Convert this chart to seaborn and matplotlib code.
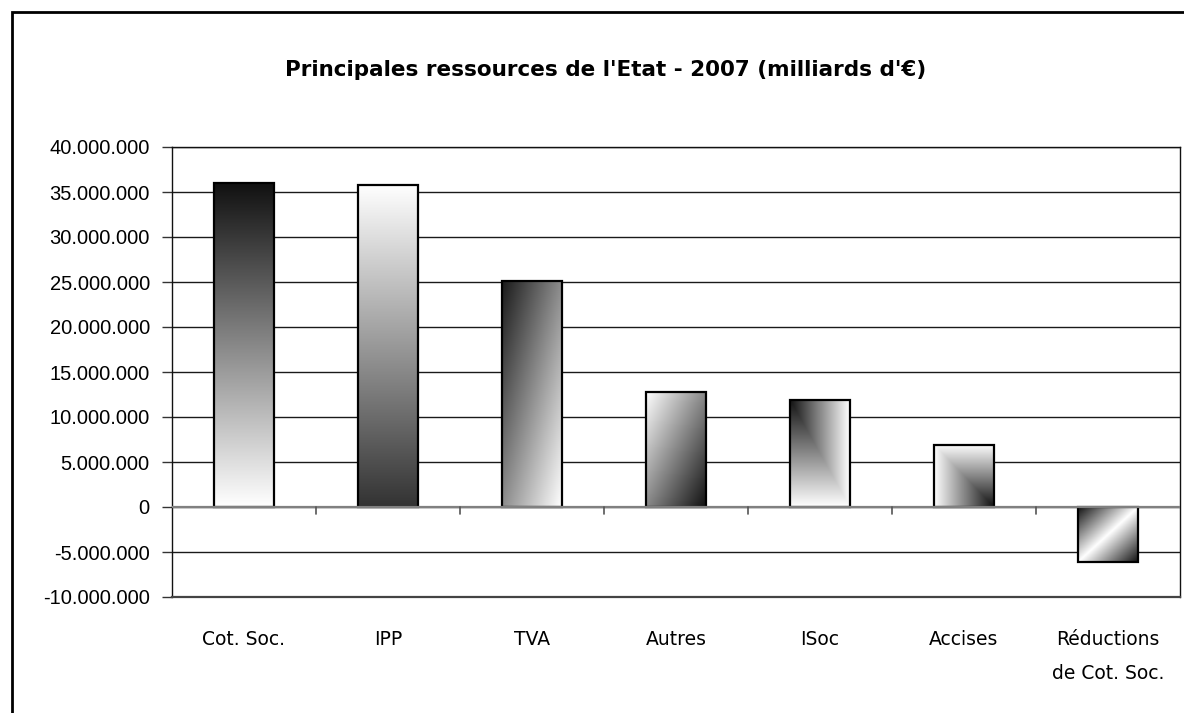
import numpy as np
import pandas as pd
import matplotlib
matplotlib.use("Agg")
import matplotlib.pyplot as plt
from matplotlib.patches import Rectangle
from matplotlib.ticker import FuncFormatter, MultipleLocator
import seaborn as sns

# Principales ressources de l'Etat, 2007
categories = ["Cot. Soc.", "IPP", "TVA", "Autres", "ISoc", "Accises",
              "Réductions\nde Cot. Soc."]
values = [36_000_000, 35_800_000, 25_100_000, 12_750_000, 11_930_000,
          6_890_000, -6_070_000]

# fill style of each bar: gradient kind and darkest grey
gradient_kinds = ["down", "up", "diag", "diag_rev", "corner_tl",
                  "corner_br", "diag_center"]
dark_tones = ["#111111", "#333333", "#1a1a1a", "#111111", "#111111",
              "#111111", "#111111"]

df = pd.DataFrame({"categorie": categories, "valeur": values})

sns.set_theme(style="white")
plt.rcParams["font.family"] = ["DejaVu Sans"]
plt.rcParams["text.color"] = "black"
plt.rcParams["xtick.color"] = "black"
plt.rcParams["ytick.color"] = "black"

W, H = 1184, 713
fig = plt.figure(figsize=(W / 100, H / 100), dpi=100)
fig.patch.set_facecolor("white")

ax = fig.add_axes([172 / W, 1 - 597 / H, (1180 - 172) / W, (597 - 147) / H])

sns.barplot(data=df, x="categorie", y="valeur", ax=ax, width=0.41,
            color="white", edgecolor="black", linewidth=1.6,
            saturation=1, zorder=3)

ax.set_ylim(-10_000_000, 40_000_000)
ax.set_xlim(-0.5, len(categories) - 0.5)


def gradient_field(kind, n=200, m=200):
    u, v = np.meshgrid(np.linspace(0, 1, m), np.linspace(0, 1, n))
    if kind == "down":
        t = v
    elif kind == "up":
        t = 1 - v
    elif kind == "diag":
        t = (u + v) / 2
    elif kind == "diag_rev":
        t = 1 - (u + v) / 2
    elif kind == "corner_tl":
        t = np.maximum(u, v)
    elif kind == "corner_br":
        t = np.maximum(1 - u, 1 - v)
    else:  # diag_center
        t = 1 - np.abs(u + v - 1)
    return t


for patch, kind, dark in zip(ax.patches, gradient_kinds, dark_tones):
    x0, y0 = patch.get_x(), patch.get_y()
    w, h = patch.get_width(), patch.get_height()
    xa, xb = x0, x0 + w
    ya, yb = min(y0, y0 + h), max(y0, y0 + h)
    t = gradient_field(kind)
    d = np.array(matplotlib.colors.to_rgb(dark))
    img = d[None, None, :] + (1 - d)[None, None, :] * t[..., None]
    im = ax.imshow(img, extent=(xa, xb, ya, yb), origin="upper",
                   aspect="auto", zorder=2, interpolation="bilinear")
    im.set_clip_path(patch)
    patch.set_facecolor("none")

ax.set_aspect("auto")
ax.set_xlim(-0.5, len(categories) - 0.5)
ax.set_ylim(-10_000_000, 40_000_000)

# horizontal grid
ax.yaxis.set_major_locator(MultipleLocator(5_000_000))
ax.yaxis.grid(True, color="#1a1a1a", linewidth=1.0, zorder=0)
ax.set_axisbelow(True)

# zero line with category separators
ax.axhline(0, color="#808080", linewidth=1.6, zorder=4)
for b in np.arange(0.5, len(categories) - 1, 1.0):
    ax.plot([b, b], [0, -800_000], color="#555555", linewidth=1.2,
            zorder=4, clip_on=False)

for side in ["left", "top", "right"]:
    ax.spines[side].set_visible(True)
    ax.spines[side].set_color("#111111")
    ax.spines[side].set_linewidth(1.0)
ax.spines["bottom"].set_color("#444444")
ax.spines["bottom"].set_linewidth(1.6)

ax.yaxis.set_major_formatter(
    FuncFormatter(lambda v, p: f"{int(round(v)):,}".replace(",", ".")))
ax.tick_params(axis="y", direction="out", length=7, width=1.0,
               color="#333333", pad=9, labelsize=14.5, left=True,
               labelcolor="black")
for lbl in ax.get_yticklabels():
    lbl.set_fontfamily("Liberation Sans")

ax.tick_params(axis="x", length=0, pad=24, labelsize=13.5,
               labelcolor="black")
ax.set_xticks(range(len(categories)))
ax.set_xticklabels(categories, linespacing=2.0)
ax.set_xlabel("")
ax.set_ylabel("")

fig.text(606 / W, 1 - 70 / H,
         "Principales ressources de l'Etat - 2007 (milliards d'€)",
         ha="center", va="center", fontsize=15.5, fontweight="bold",
         color="black")

# outer frame of the chart
fig.add_artist(Rectangle((12 / W, -0.2), 1.2, 1 - 12 / H + 0.2,
                         transform=fig.transFigure, fill=False,
                         edgecolor="black", linewidth=2.0))

fig.savefig("out.png", dpi=100, facecolor="white")
